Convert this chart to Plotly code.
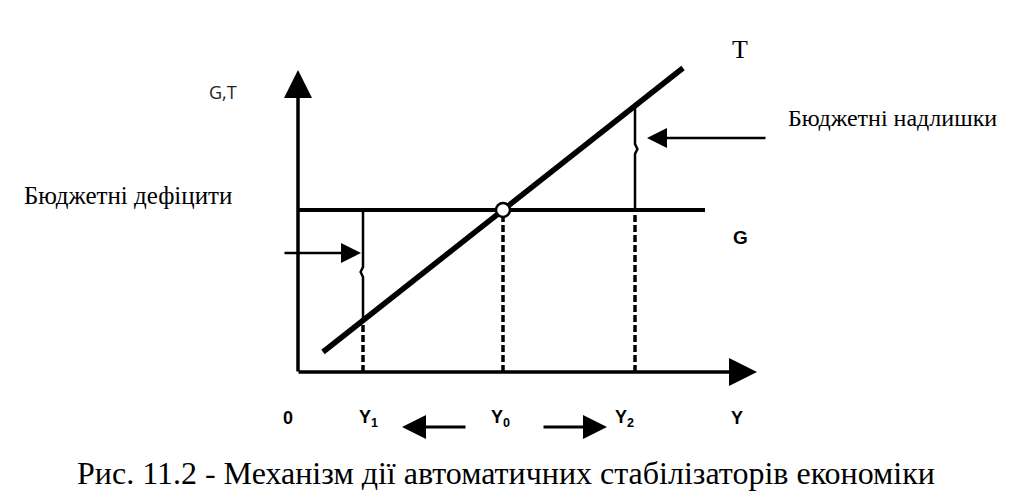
import plotly.graph_objects as go

# ---- data (model units) ----
G_level = 8.1                      # government spending G
G_span = [0.0, 20.35]              # extent of G line along Y
T_Y = [1.25, 19.25]                # tax line T, Y coordinates
T_vals = [1.0, 15.2]               # tax line T values
Y_points = {"Y1": 3.25, "Y0": 10.25, "Y2": 16.85}
T_at = {"Y1": 2.6, "Y2": 13.3}     # T value at Y1, Y2
axis_len = {"x": 22.95, "y": 15.1}
tick_labels = ["0", "Y<sub>1</sub>", "Y<sub>0</sub>", "Y<sub>2</sub>", "Y"]
tick_pos = [-0.5, 3.5, 10.1, 16.3, 21.95]

SERIF = "Liberation Serif, Times New Roman, serif"
SANS = "Liberation Sans, Arial, sans-serif"

fig = go.Figure()

# G line
fig.add_trace(go.Scatter(x=G_span, y=[G_level, G_level], mode="lines",
                         line=dict(color="black", width=4), hoverinfo="skip"))
# T line
fig.add_trace(go.Scatter(x=T_Y, y=T_vals, mode="lines",
                         line=dict(color="black", width=5.5), hoverinfo="skip"))

y1, y0, y2 = Y_points["Y1"], Y_points["Y0"], Y_points["Y2"]
# solid deficit segment at Y1 (with small brace)
fig.add_trace(go.Scatter(x=[y1, y1, y1 - 0.12, y1, y1],
                         y=[G_level, 5.25, 5.0, 4.75, T_at["Y1"]], mode="lines",
                         line=dict(color="black", width=2.5), hoverinfo="skip"))
# solid surplus segment at Y2 (with small brace)
fig.add_trace(go.Scatter(x=[y2, y2, y2 + 0.12, y2, y2],
                         y=[T_at["Y2"], 11.4, 11.15, 10.9, G_level], mode="lines",
                         line=dict(color="black", width=2.5), hoverinfo="skip"))
# dashed drop lines
for yy, top in [(y1, T_at["Y1"]), (y0, G_level), (y2, G_level)]:
    fig.add_trace(go.Scatter(x=[yy, yy], y=[0, top], mode="lines",
                             line=dict(color="black", width=3.5, dash="7px,3px"),
                             hoverinfo="skip"))
# equilibrium point
fig.add_trace(go.Scatter(x=[y0], y=[G_level], mode="markers",
                         marker=dict(size=14, color="white",
                                     line=dict(color="black", width=2.5)),
                         hoverinfo="skip"))

ann = []
def arrow(x, y, ax, ay, width=3, size=1.6, head=2):
    ann.append(dict(x=x, y=y, ax=ax, ay=ay, xref="x", yref="y", axref="x", ayref="y",
                    text="", showarrow=True, arrowhead=head, arrowsize=size,
                    arrowwidth=width, arrowcolor="black"))

# axes
arrow(axis_len["x"], 0, -0.05, 0, width=3.5, size=1.6)
arrow(0, axis_len["y"], 0, -0.05, width=3.5, size=1.6)
# deficit / surplus pointers
arrow(y1 - 0.1, 5.95, -0.75, 5.95, width=2.5, size=1.6)
arrow(y2 + 0.6, 11.7, 23.45, 11.7, width=2.5, size=1.6)
# direction arrows under the axis
arrow(5.2, -2.75, 8.45, -2.75, width=3, size=1.6)
arrow(15.45, -2.75, 12.2, -2.75, width=3, size=1.6)

def text(x, y, s, size, family, xanchor="center", bold=False, color="black"):
    ann.append(dict(x=x, y=y, xref="x", yref="y", text=(f"<b>{s}</b>" if bold else s),
                    showarrow=False, xanchor=xanchor, yanchor="middle",
                    font=dict(size=size, family=family, color=color)))

text(-3.73, 14.0, "G,T", 18, "Open Sans, sans-serif", color="#222")
text(22.1, 16.15, "T", 26, SERIF)
text(24.4, 12.7, "Бюджетні надлишки", 24, SERIF, xanchor="left")
text(-13.8, 8.85, "Бюджетні дефіцити", 25, SERIF, xanchor="left")
text(22.1, 6.75, "G", 19, SANS, bold=True)
for lab, pos in zip(tick_labels, tick_pos):
    text(pos, -2.3, lab, 18, SANS, bold=True)
text(10.4, -5.05, "Рис. 11.2 - Механізм дії автоматичних стабілізаторів економіки", 32, SERIF)

# page is offset by the 8px body margin; ranges chosen so the origin sits at (298, 372)
fig.update_layout(
    width=1012, height=494, margin=dict(l=0, r=0, t=0, b=0),
    paper_bgcolor="white", plot_bgcolor="white", showlegend=False,
    xaxis=dict(range=[-14.5, 36.1], visible=False, fixedrange=True),
    yaxis=dict(range=[-6.5, 18.2], visible=False, fixedrange=True),
    annotations=ann,
)
fig.write_html("out.html")
